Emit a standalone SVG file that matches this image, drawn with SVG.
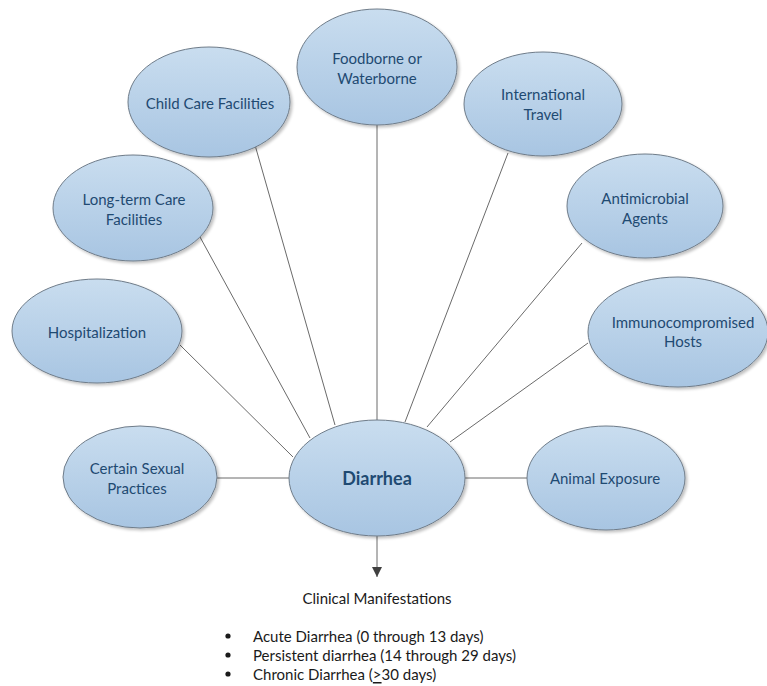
<svg xmlns="http://www.w3.org/2000/svg" width="767" height="686" viewBox="0 0 767 686">
  <defs>
    <linearGradient id="fill" x1="0" y1="0" x2="0" y2="1">
      <stop offset="0" stop-color="#c9ddef"/>
      <stop offset="1" stop-color="#a8c5e2"/>
    </linearGradient>
    <filter id="shadow" x="-10%" y="-10%" width="125%" height="130%">
      <feGaussianBlur in="SourceAlpha" stdDeviation="1.5"/>
      <feOffset dx="1.5" dy="2" result="b"/>
      <feComponentTransfer><feFuncA type="linear" slope="0.25"/></feComponentTransfer>
      <feMerge><feMergeNode/><feMergeNode in="SourceGraphic"/></feMerge>
    </filter>
    <marker id="arrow" markerWidth="10" markerHeight="10" refX="10" refY="5" orient="auto" markerUnits="userSpaceOnUse" viewBox="0 0 10 10">
      <path d="M0,0 L10,5 L0,10 Z" fill="#404040"/>
    </marker>
  </defs>
  <style>
    .node ellipse { fill: url(#fill); stroke: #6f7c89; stroke-width: 1; filter: url(#shadow); }
    .lbl { font-family: Lato, "Open Sans", "Liberation Sans", sans-serif; font-size: 15px; fill: #1f4a72; text-anchor: middle; dominant-baseline: central; }
    .main { font-size: 18px; font-weight: bold; fill: #1f4a72; }
    .conn line { stroke: #6a6a6a; stroke-width: 1; }
    .note { font-family: Lato, "Open Sans", "Liberation Sans", sans-serif; font-size: 15px; fill: #1a1a1a; dominant-baseline: central; }
  </style>
  <rect width="767" height="686" fill="#ffffff"/>

  <g id="connectors" class="conn">
    <line x1="377" y1="125" x2="377" y2="420"/>
    <line x1="255" y1="145" x2="335" y2="425"/>
    <line x1="508" y1="153" x2="405" y2="422"/>
    <line x1="200" y1="237" x2="310" y2="438"/>
    <line x1="582" y1="243" x2="427" y2="427"/>
    <line x1="180" y1="345" x2="293" y2="457"/>
    <line x1="588" y1="343" x2="450" y2="442"/>
    <line x1="217" y1="478" x2="289" y2="478"/>
    <line x1="465" y1="478" x2="527" y2="478"/>
    <line x1="377" y1="536" x2="377" y2="577" marker-end="url(#arrow)"/>
  </g>

  <g id="n-foodborne" class="node">
    <ellipse cx="377" cy="67" rx="80" ry="58"/>
    <text class="lbl" x="377" y="58">Foodborne or</text>
    <text class="lbl" x="377" y="78">Waterborne</text>
  </g>
  <g id="n-childcare" class="node">
    <ellipse cx="209" cy="102" rx="81" ry="55"/>
    <text class="lbl" x="210" y="103">Child Care Facilities</text>
  </g>
  <g id="n-travel" class="node">
    <ellipse cx="543" cy="104" rx="79" ry="52"/>
    <text class="lbl" x="543" y="94">International</text>
    <text class="lbl" x="543" y="114">Travel</text>
  </g>
  <g id="n-longterm" class="node">
    <ellipse cx="133" cy="208" rx="80" ry="53"/>
    <text class="lbl" x="134" y="199">Long-term Care</text>
    <text class="lbl" x="134" y="219">Facilities</text>
  </g>
  <g id="n-antimicrobial" class="node">
    <ellipse cx="645" cy="206" rx="78" ry="52"/>
    <text class="lbl" x="645" y="198">Antimicrobial</text>
    <text class="lbl" x="645" y="218">Agents</text>
  </g>
  <g id="n-hospitalization" class="node">
    <ellipse cx="97" cy="331" rx="85" ry="52"/>
    <text class="lbl" x="97" y="332">Hospitalization</text>
  </g>
  <g id="n-immuno" class="node">
    <ellipse cx="678" cy="332" rx="90" ry="55"/>
    <text class="lbl" x="683" y="322">Immunocompromised</text>
    <text class="lbl" x="683" y="341">Hosts</text>
  </g>
  <g id="n-sexual" class="node">
    <ellipse cx="140" cy="477" rx="77" ry="51"/>
    <text class="lbl" x="137" y="468">Certain Sexual</text>
    <text class="lbl" x="137" y="488">Practices</text>
  </g>
  <g id="n-animal" class="node">
    <ellipse cx="606" cy="478" rx="79" ry="52"/>
    <text class="lbl" x="605" y="478">Animal Exposure</text>
  </g>
  <g id="n-diarrhea" class="node">
    <ellipse cx="377" cy="478" rx="88" ry="58"/>
    <text class="lbl main" x="377" y="478">Diarrhea</text>
  </g>

  <g id="manifestations">
    <text class="note" x="377" y="598" text-anchor="middle">Clinical Manifestations</text>
    <circle cx="228" cy="636" r="2.6" fill="#1a1a1a"/>
    <circle cx="228" cy="655" r="2.6" fill="#1a1a1a"/>
    <circle cx="228" cy="674" r="2.6" fill="#1a1a1a"/>
    <text class="note" x="253" y="636">Acute Diarrhea (0 through 13 days)</text>
    <text class="note" x="253" y="655">Persistent diarrhea (14 through 29 days)</text>
    <text class="note" x="253" y="674">Chronic Diarrhea (<tspan text-decoration="underline">&gt;</tspan>30 days)</text>
  </g>
</svg>
